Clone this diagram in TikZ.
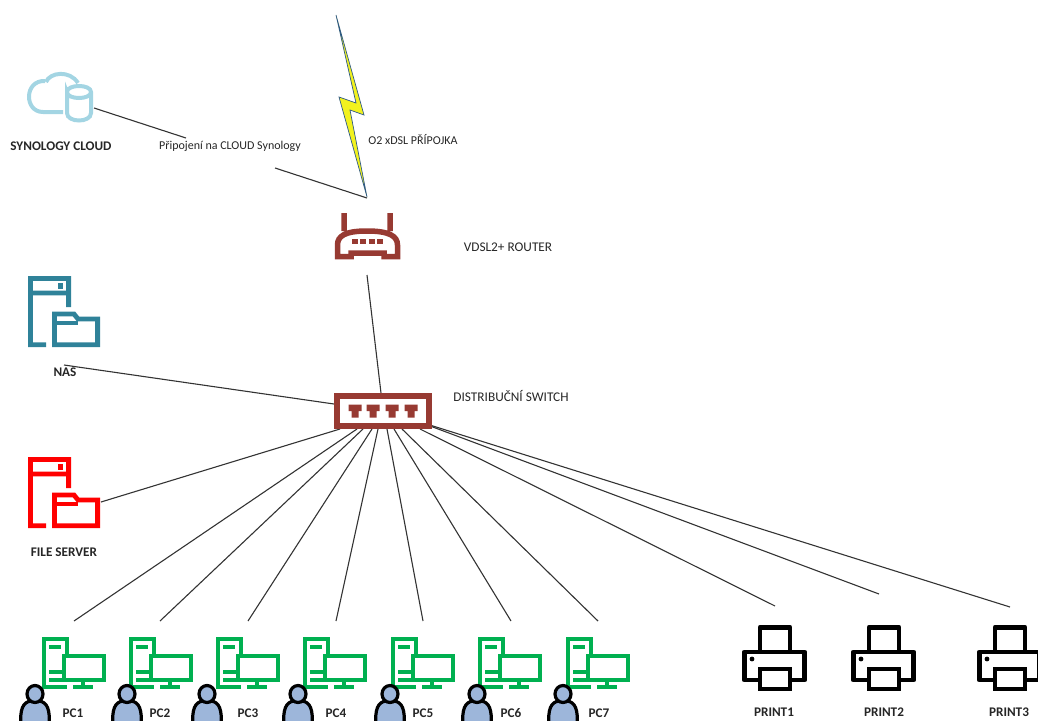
\documentclass[tikz,border=0pt]{standalone}
\usepackage{fontspec}
\setmainfont{Carlito}
\definecolor{nasblue}{HTML}{2F8299}
\definecolor{redsrv}{HTML}{FF0000}
\definecolor{pcgreen}{HTML}{00B050}
\definecolor{routerred}{HTML}{973A32}
\definecolor{cloudblue}{HTML}{A3D5E3}
\definecolor{personblue}{HTML}{9DB6DA}
\definecolor{boltblue}{HTML}{2F5A85}
\definecolor{boltyellow}{HTML}{F2F21E}
\definecolor{linkgrey}{HTML}{333333}
\definecolor{txt}{HTML}{262626}
\tikzset{
  link/.style={draw=linkgrey,line width=1.1pt},
  lab/.style={text=txt,font=\fontsize{12}{14}\selectfont,inner sep=0pt},
  biglab/.style={text=txt,font=\fontsize{13.3}{15}\selectfont,inner sep=0pt},
  blab/.style={text=txt,font=\fontsize{13.2}{15}\selectfont\bfseries,inner sep=0pt},
  pics/srvfolder/.style={code={
    \draw[#1,line width=4.8pt,miter limit=4]
      (18,68.8) -- (2.4,68.8) -- (2.4,2.4) -- (40.6,2.4) -- (40.6,31)
      (2.4,17) -- (40.6,17)
      (26.4,68.8) -- (26.4,38) -- (46,38) -- (50,43) -- (69.6,43) -- (69.6,68.8) -- cycle;
    \draw[#1,line width=4pt] (26,46.7) -- (50,46.7);
    \fill[#1] (29.5,6.5) rectangle (35,12.5);
  }},
  pics/pcset/.style={code={
    \draw[pcgreen,line width=4pt]
      (25,17) -- (25,2) -- (1.6,2) -- (1.6,50.3) -- (25,50.3);
    \draw[pcgreen,line width=4pt] (22,19) rectangle (62,43);
    \draw[pcgreen,line width=4pt] (7,10) -- (19,10) (7,35) -- (21,35) (7,43) -- (21,43) (41,43) -- (41,50.3) (31,50.3) -- (51,50.3);
  }},
  pics/person/.style={code={
    \filldraw[draw=black,fill=personblue,line width=3.2pt]
      (-14,32) .. controls (-15.5,14) and (-12,7) .. (-4,6) -- (4,6) .. controls (12,7) and (15.5,14) .. (14,32) -- cycle;
    \filldraw[draw=black,fill=personblue,line width=3.2pt] (0,-1) ellipse (8 and 8.5);
  }},
  pics/printer/.style={code={
    \draw[black,line width=4.8pt,line join=round]
      (18,27) -- (18,2.4) -- (48,2.4) -- (48,27)
      (16,55) -- (2.4,55) -- (2.4,27) -- (62.6,27) -- (62.6,55) -- (50,55);
    \draw[black,line width=4.8pt] (18,44) rectangle (48,64);
    \fill[black] (10,34) circle (2.4);
  }}
}
\begin{document}
\begin{tikzpicture}[x=1pt,y=-1pt]
\useasboundingbox (0,0) rectangle (1038,720);
\begin{scope}
\clip (0,0) rectangle (1038,720);

% connector end points
\coordinate (cloudend) at (94,108);
\coordinate (labelin) at (186,138);
\coordinate (labelout) at (275,168);
\coordinate (boltfoot) at (367,198);
\coordinate (routerend) at (367,275);
\coordinate (swtop) at (381,393);
\coordinate (nasend) at (64,365);
\coordinate (swnas) at (334,404);
\coordinate (fileend) at (101,502);
\coordinate (swfile) at (340,429);
\foreach \n/\x/\y/\sx/\sy in {pca/74/621/357/429,pcb/160/621/363/429,pcc/248/621/372/429,pcd/336/621/378/429,pce/423/621/387/429,pcf/511/621/394/429,pcg/598/621/402/429,pra/775/606/420/429,prb/879/594/432/426.7,prc/1010/607/432/425.7}{
  \coordinate (\n) at (\x,\y);
  \coordinate (sw\n) at (\sx,\sy);
}

% connectors
\draw[link] (cloudend) -- (labelin);
\draw[link] (labelout) -- (boltfoot);
\draw[link] (routerend) -- (swtop);
\draw[link] (nasend) -- (swnas);
\draw[link] (fileend) -- (swfile);
\foreach \n in {pca,pcb,pcc,pcd,pce,pcf,pcg,pra,prb,prc}{
  \draw[link] (\n) -- (sw\n);
}

% lightning bolt
\filldraw[draw=boltblue,fill=boltyellow,line width=0.7pt,line join=miter]
  (336,15) -- (364,115) -- (350,110) -- (367,197) -- (339,97) -- (356,103) -- cycle;

% cloud + database
\draw[cloudblue,line width=4pt]
  (63,112) -- (43,112) .. controls (24,112) and (24,80) .. (45,81);
\draw[cloudblue,line width=4pt]
  (46,82) .. controls (50,72) and (70,70) .. (78,83);
\draw[cloudblue,line width=4pt]
  (67,92) .. controls (67,84) and (91,84) .. (91,92) .. controls (91,100) and (67,100) .. (67,92) -- (67,113)
  .. controls (67,123) and (91,123) .. (91,113) -- (91,92);

% NAS and file server
\pic at (28,276) {srvfolder=nasblue};
\pic at (28,457) {srvfolder=redsrv};

% router
\draw[routerred,line width=5.5pt,line join=miter]
  (344,213) -- (344,231) (390,213) -- (390,231)
  (351,256.5) -- (337.5,256.5) -- (337.5,245) .. controls (337.5,236) and (345,231) .. (367,231) .. controls (389,231) and (397.5,236) .. (397.5,245) -- (397.5,256.5) -- (384,256.5) -- (384,253) -- (351,253) -- cycle;
\foreach \x in {355,363,372,380}{
  \fill[routerred] (\x-2.6,238.5) rectangle (\x+2.6,244);
}

% switch
\draw[routerred,line width=6.4pt] (337.2,396.2) rectangle (428.8,425.8);
\foreach \x in {355,373,392,411}{
  \fill[routerred] (\x-6.5,404.5) -- (\x+6.5,404.5) -- (\x+6.5,411) -- (\x+3.5,411) -- (\x+3.5,417.5) -- (\x-3.5,417.5) -- (\x-3.5,411) -- (\x-6.5,411) -- cycle;
}

% PCs
\foreach \x in {42,129,216,303,391,478,566}{
  \pic at (\x,637) {pcset};
}
\foreach \x in {35,127,207,298,390,477,563}{
  \pic at (\x,695) {person};
}

% printers
\foreach \x in {742,851,977}{
  \pic at (\x,625) {printer};
}
\end{scope}

% labels
\node[blab] (tcloud) at (61,146) {SYNOLOGY CLOUD};
\node[lab]  (tlink)  at (230,146) {Připojení na CLOUD Synology};
\node[lab]  (tdsl)   at (413,140) {O2 xDSL PŘÍPOJKA};
\node[biglab] (trouter) at (508,247) {VDSL2+ ROUTER};
\node[biglab] (tswitch) at (511,396) {DISTRIBUČNÍ SWITCH};
\node[blab] (tnas) at (65,372) {NAS};
\node[blab] (tfile) at (64,552) {FILE SERVER};
\foreach \n/\x in {1/73,2/160,3/248,4/336,5/423,6/511,7/599}{
  \node[blab] (tpc\n) at (\x,713) {PC\n};
}
\node[blab] (tpra) at (774,712) {PRINT1};
\node[blab] (tprb) at (884,712) {PRINT2};
\node[blab] (tprc) at (1009,712) {PRINT3};
\end{tikzpicture}
\end{document}
